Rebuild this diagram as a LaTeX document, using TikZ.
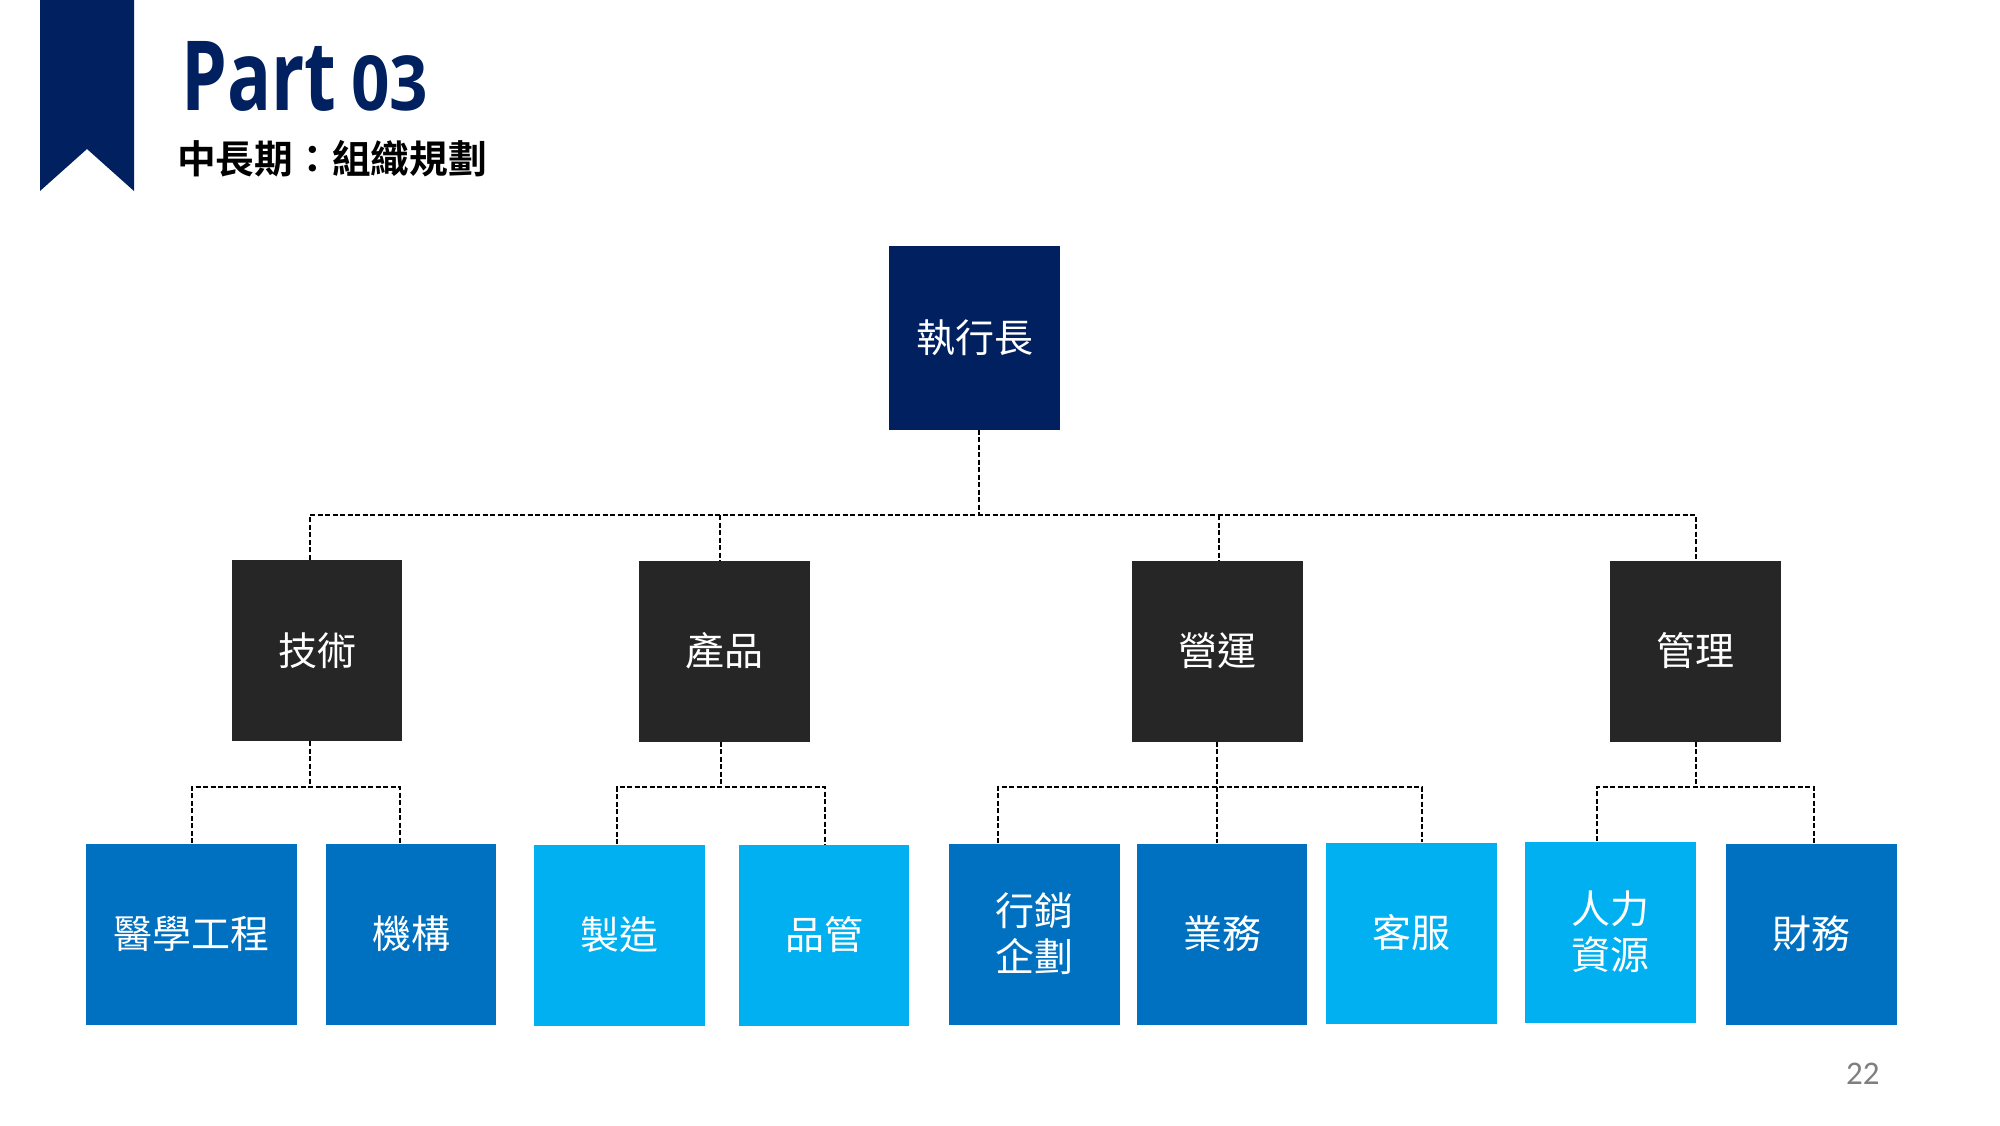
\documentclass[tikz,border=0pt]{standalone}
\usepackage{fontspec}
\usepackage{graphicx}
\newfontfamily\cjk{Noto Sans CJK TC}
\newfontfamily\cjkb{Noto Sans CJK TC}[BoldFont={* Bold}]
\newfontfamily\titlefont{Open Sans}
\newfontfamily\numfont{Carlito}
\definecolor{navy}{HTML}{012060}
\definecolor{darkbox}{HTML}{262626}
\definecolor{midblue}{HTML}{0070C0}
\definecolor{lightblue}{HTML}{00B0F0}
\definecolor{pagegrey}{HTML}{7F7F7F}
\tikzset{
  orgbox/.style={rectangle, inner sep=0pt, text=white, align=center,
    minimum width=171pt, minimum height=181pt,
    font=\cjk\fontsize{39}{46}\selectfont},
  ceobox/.style={orgbox, fill=navy},
  deptbox/.style={orgbox, fill=darkbox},
  unitdark/.style={orgbox, fill=midblue},
  unitlight/.style={orgbox, fill=lightblue},
  conn/.style={draw=black, line width=1.6pt, dash pattern=on 5pt off 2.5pt}
}
\begin{document}
\begin{tikzpicture}[x=1pt,y=-1pt]
\useasboundingbox[fill=white] (0,0) rectangle (2000,1125);
% banner
\fill[navy] (40,0) -- (134,0) -- (134,191) -- (87,149) -- (40,191) -- cycle;
\node[anchor=base west, inner sep=0pt, text=navy] (part) at (181,110)
  {\resizebox{155pt}{69pt}{\titlefont\bfseries Part}};
\node[anchor=base west, inner sep=0pt, text=navy] (num) at (351,110)
  {\resizebox{77pt}{55pt}{\titlefont\bfseries 03}};
\node[anchor=west, inner sep=0pt] (sub) at (177,158.5)
  {\cjkb\bfseries\fontsize{38.7}{44}\selectfont 中長期：組織規劃};
% boxes
\node[ceobox, minimum height=184pt] (ceo) at (974.5,337.5) {執行長};
\node[deptbox, minimum width=170pt] (tech) at (317,650.5) {技術};
\node[deptbox] (prod) at (724.5,651) {產品};
\node[deptbox] (ops) at (1217.5,651) {營運};
\node[deptbox] (mgmt) at (1695.5,651) {管理};
\node[unitdark, minimum width=211pt] (med) at (191.5,934) {醫學工程};
\node[unitdark, minimum width=170pt] (mech) at (411,934) {機構};
\node[unitlight] (mfg) at (619.5,935) {製造};
\node[unitlight, minimum width=170pt] (qc) at (824,935) {品管};
\node[unitdark] (mkt) at (1034.5,934) {行銷\\企劃};
\node[unitdark, minimum width=170pt] (sales) at (1222,934) {業務};
\node[unitlight] (cs) at (1411.5,933) {客服};
\node[unitlight] (hr) at (1610.5,932) {人力\\資源};
\node[unitdark] (fin) at (1811.5,934) {財務};
% bus coordinates
\coordinate (b0) at (979,515);
\coordinate (bt1) at (310,515);
\coordinate (bt2) at (720,515);
\coordinate (bt3) at (1219,515);
\coordinate (bt4) at (1696,515);
\coordinate (c1) at (310,787);
\coordinate (c1a) at (192,787);
\coordinate (c1b) at (400,787);
\coordinate (c2) at (721,787);
\coordinate (c2a) at (617,787);
\coordinate (c2b) at (825,787);
\coordinate (c3) at (1217,787);
\coordinate (c3a) at (998,787);
\coordinate (c3b) at (1422,787);
\coordinate (c4) at (1696,787);
\coordinate (c4a) at (1597,787);
\coordinate (c4b) at (1814,787);
% connectors
\draw[conn] (ceo.south -| b0) -- (b0);
\draw[conn] (tech.north -| bt1) -- (bt1) -- (bt4) -- (mgmt.north -| bt4);
\draw[conn] (bt2) -- (prod.north -| bt2);
\draw[conn] (bt3) -- (ops.north -| bt3);
\draw[conn] (tech.south -| c1) -- (c1);
\draw[conn] (med.north -| c1a) -- (c1a) -- (c1b) -- (mech.north -| c1b);
\draw[conn] (prod.south -| c2) -- (c2);
\draw[conn] (mfg.north -| c2a) -- (c2a) -- (c2b) -- (qc.north -| c2b);
\draw[conn] (ops.south -| c3) -- (sales.north -| c3);
\draw[conn] (mkt.north -| c3a) -- (c3a) -- (c3b) -- (cs.north -| c3b);
\draw[conn] (mgmt.south -| c4) -- (c4);
\draw[conn] (hr.north -| c4a) -- (c4a) -- (c4b) -- (fin.north -| c4b);
% page number
\node[anchor=base west, inner sep=0pt, text=pagegrey, font=\numfont\fontsize{33}{36}\selectfont] (page) at (1846,1084) {22};
\end{tikzpicture}
\end{document}
